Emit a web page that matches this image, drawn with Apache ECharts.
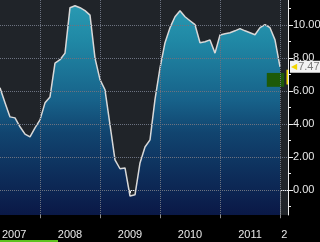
<!DOCTYPE html>
<html>
<head>
<meta charset="utf-8">
<script src="https://cdn.jsdelivr.net/npm/echarts@6/dist/echarts.min.js"></script>
<style>html,body{margin:0;padding:0;background:#000;}#c{width:320px;height:242px;}</style>
</head>
<body>
<div id="c"></div>
<script>
// Monthly values, May 2007 .. Jan 2012
var startYear = 2007, startMonth = 5;
var values = [
  6.2, 5.3, 4.44, 4.38, 3.84, 3.4, 3.23, 3.78,                 // 2007 May-Dec
  4.26, 5.29, 5.65, 7.7, 7.9, 8.3, 11.05, 11.17, 11.05, 10.87, 10.6, 8.0, // 2008
  6.7, 6.08, 3.95, 1.84, 1.3, 1.35, -0.35, -0.28, 1.65, 2.62, 3.05, 5.5,  // 2009
  7.4, 8.93, 9.84, 10.5, 10.87, 10.5, 10.26, 10.02, 8.93, 8.99, 9.1, 8.3, // 2010
  9.4, 9.47, 9.53, 9.65, 9.78, 9.65, 9.53, 9.41, 9.84, 10.02, 9.84, 9.1,  // 2011
  7.47                                                          // 2012 Jan
];
var lastValue = 7.47;
var yearLabels = ['2007', '2008', '2009', '2010', '2011', '2'];
var yearLabelAt = [2007.57, 2008.5, 2009.5, 2010.5, 2011.5, 2012.07];
var yearBounds = [2008, 2009, 2010, 2011, 2012];
var quarterTicks = [2007.5, 2007.75, 2008.25, 2008.5, 2008.75, 2009.25, 2009.5, 2009.75,
  2010.25, 2010.5, 2010.75, 2011.25, 2011.5, 2011.75];
var yTickLabels = [0, 2, 4, 6, 8, 10, 12];
var yMinorTicks = [-1, 1, 3, 5, 7, 9, 11];
var bandLow = 6.26, bandHigh = 7.1, bandFrom = 2011.78, bandTo = 2012.07;
var markLow = 6.4, markHigh = 7.3;

var xMin = 2007 + 4 / 12, xMax = 2012 + 1.6 / 12;
var data = values.map(function (v, i) {
  return [startYear + (startMonth - 1 + i) / 12, v];
});

var gridLines = [];
yTickLabels.forEach(function (v) { gridLines.push({ yAxis: v }); });
yearBounds.forEach(function (v) { gridLines.push({ xAxis: v }); });

var chart = echarts.init(document.getElementById('c'), null, { renderer: 'canvas' });
chart.setOption({
  animation: false,
  backgroundColor: '#000',
  grid: { left: 0, right: 32, top: -8, bottom: 27, show: true, backgroundColor: '#202429', borderWidth: 0,
          outerBoundsMode: 'none', containLabel: false },
  xAxis: [{
    type: 'value', min: xMin, max: xMax,
    axisLine: { show: true, lineStyle: { color: '#f0f0f0', width: 1 } },
    axisTick: { show: true, customValues: quarterTicks, length: 3, lineStyle: { color: '#f0f0f0' } },
    axisLabel: { show: false },
    splitLine: { show: false }
  }, {
    type: 'value', min: xMin, max: xMax, position: 'bottom',
    axisLine: { show: false },
    axisTick: { show: true, customValues: yearBounds, length: 28, lineStyle: { color: '#8a8a8a' } },
    axisLabel: {
      show: true, customValues: yearLabelAt, margin: 14,
      color: '#e8e8e8', fontFamily: 'Liberation Sans', fontSize: 11,
      formatter: function (v) {
        var k = yearLabelAt.indexOf(v);
        return k >= 0 ? yearLabels[k] : '';
      }
    },
    splitLine: { show: false }
  }],
  yAxis: [{
    type: 'value', position: 'right', min: -1.5, max: 12,
    axisLine: { show: true, lineStyle: { color: '#f0f0f0', width: 1 } },
    axisTick: { show: true, customValues: yTickLabels, length: 5, lineStyle: { color: '#f0f0f0' } },
    axisLabel: {
      show: true, customValues: yTickLabels, margin: 5,
      color: '#e8e8e8', fontFamily: 'Liberation Sans', fontSize: 11,
      formatter: function (v) { return v.toFixed(2); }
    },
    splitLine: { show: false }
  }, {
    type: 'value', position: 'right', min: -1.5, max: 12,
    axisLine: { show: false },
    axisTick: { show: true, customValues: yMinorTicks, length: 3, lineStyle: { color: '#f0f0f0' } },
    axisLabel: { show: false },
    splitLine: { show: false }
  }],
  series: [{
    type: 'line',
    data: data,
    showSymbol: false,
    z: 2,
    lineStyle: { color: '#d8d8d8', width: 1.5 },
    areaStyle: {
      origin: 'start',
      opacity: 1,
      color: {
        type: 'linear', x: 0, y: 0, x2: 0, y2: 215, global: true,
        colorStops: [
          { offset: 0, color: '#2a9cb4' },
          { offset: 0.19, color: '#2088a5' },
          { offset: 0.47, color: '#176189' },
          { offset: 0.62, color: '#11446f' },
          { offset: 1, color: '#0a1846' }
        ]
      }
    }
  }, {
    type: 'line',
    data: [],
    z: 5,
    markArea: {
      silent: true,
      z: 4,
      itemStyle: { color: '#1d5a08', opacity: 1 },
      data: [
        [{ xAxis: bandFrom, yAxis: bandHigh }, { xAxis: bandTo, yAxis: bandLow }],
        [{ xAxis: xMax - 0.025, yAxis: markHigh, itemStyle: { color: '#f2d600' } }, { xAxis: xMax, yAxis: markLow }]
      ]
    },
    markLine: {
      silent: true,
      symbol: ['none', 'none'],
      label: { show: false },
      lineStyle: { color: '#6c7280', type: 'dotted', width: 1 },
      data: gridLines
    }
  }, {
    type: 'line',
    data: [],
    z: 6,
    markLine: {
      silent: true,
      symbol: ['none', 'none'],
      lineStyle: { color: 'rgba(0,0,0,0)', width: 1 },
      label: {
        show: true, position: 'end', distance: 2,
        formatter: '{t|◀}{v|' + lastValue.toFixed(2) + '}',
        backgroundColor: '#f2f2f2', padding: [1, 4, 0, 1],
        rich: {
          t: { color: '#f2d600', fontFamily: 'DejaVu Sans', fontSize: 8, padding: [0, 1, 0, 0] },
          v: { color: '#7a7a7a', fontFamily: 'Liberation Sans', fontSize: 11 }
        }
      },
      data: [{ yAxis: lastValue }]
    }
  }],
  graphic: [{
    type: 'rect', left: 0, bottom: 0, shape: { width: 58, height: 2 }, style: { fill: '#5cc21e' }
  }]
});
</script>
</body>
</html>
